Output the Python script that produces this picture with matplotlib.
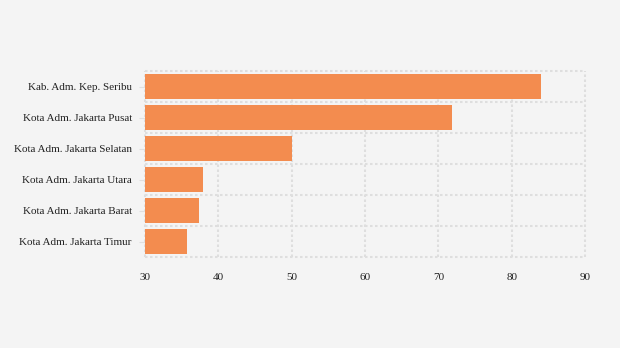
import matplotlib.pyplot as plt
import numpy as np

# Categories listed top to bottom
regions = ['Kab. Adm. Kep. Seribu', 'Kota Adm. Jakarta Pusat', 'Kota Adm. Jakarta Selatan',
           'Kota Adm. Jakarta Utara', 'Kota Adm. Jakarta Barat', 'Kota Adm. Jakarta Timur']
values = [84.0, 71.9, 50.0, 37.9, 37.4, 35.7]
x_ticks = [30, 40, 50, 60, 70, 80, 90]

plt.rcParams['font.family'] = ['Liberation Serif', 'DejaVu Serif']

fig = plt.figure(figsize=(6.2, 3.48), dpi=100)
fig.patch.set_facecolor('#f4f4f4')
ax = fig.add_axes([145 / 620, 1 - 257 / 348, 440 / 620, 186 / 348])
ax.set_facecolor('#f4f4f4')

y = np.arange(len(regions))
ax.barh(y, [v - 30 for v in values], left=30, height=0.82, color='#f38c4f', zorder=3)

ax.set_xlim(30, 90)
ax.set_ylim(len(regions) - 0.5, -0.5)
ax.set_xticks(x_ticks)
ax.set_xticklabels([str(t) for t in x_ticks], fontsize=8, color='#222222')
ax.set_yticks(y)
ax.set_yticklabels(regions, fontsize=8, color='#222222')

ax.tick_params(axis='x', length=0, pad=11.5)
ax.tick_params(axis='y', length=4, color='#e0e0e0', pad=5.5)

# dashed grid: verticals at x ticks, horizontals between bars
grid_kw = dict(color='#dedede', linestyle=(0, (1.2, 1.2)), linewidth=1.5, zorder=1, clip_on=False)
for xv in x_ticks:
    ax.axvline(xv, **grid_kw)
for yb in np.arange(len(regions) + 1) - 0.5:
    ax.axhline(yb, **grid_kw)
for s in ax.spines.values():
    s.set_visible(False)

fig.savefig('out.png', dpi=100, facecolor=fig.get_facecolor())
